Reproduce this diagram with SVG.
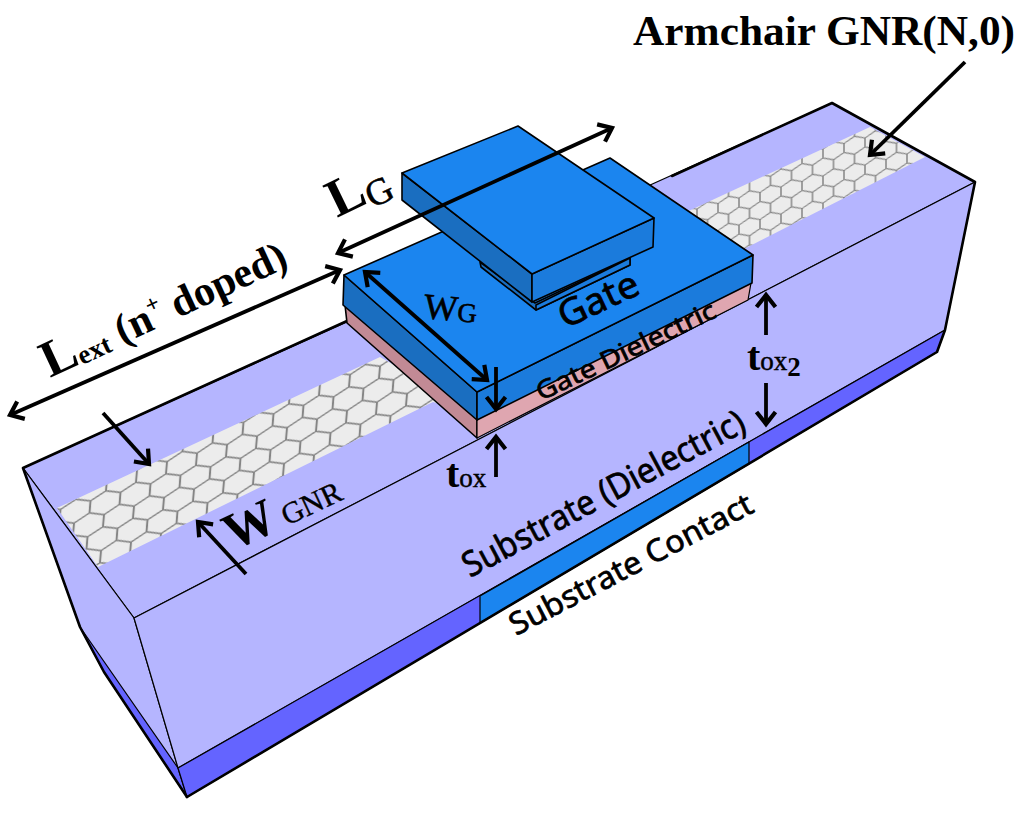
<svg xmlns="http://www.w3.org/2000/svg" width="1024" height="815" viewBox="0 0 1024 815">
<style>
.face{fill:#b5b5ff;stroke:#000;stroke-width:1.2;stroke-linejoin:round}
.band{fill:#6464ff;stroke:#000;stroke-width:1.2;stroke-linejoin:round}
.top{fill:#1b85ef;stroke:#000;stroke-width:1.6;stroke-linejoin:round}
.front{fill:#1b7bdc;stroke:#000;stroke-width:1.6;stroke-linejoin:round}
.side{fill:#1a6ec0;stroke:#000;stroke-width:1.6;stroke-linejoin:round}
.edge{fill:none;stroke:#000;stroke-width:2.6;stroke-linejoin:round;stroke-linecap:round}
.arrow{fill:none;stroke:#000;stroke-width:3.8;marker-end:url(#head)}
.both{marker-start:url(#head)}
.serif{font-family:"Liberation Serif","Times New Roman",serif;fill:#000}
.sans{font-family:"Noto Sans","Open Sans",sans-serif;fill:#000;stroke:#000;stroke-width:.7}
.b{font-weight:bold}
</style>
<defs>
<marker id="head" markerUnits="userSpaceOnUse" markerWidth="26" markerHeight="26" refX="17" refY="13" orient="auto-start-reverse">
<path d="M5 3.5L17 13L5 22.5" fill="none" stroke="#000" stroke-width="4.2"/>
</marker>
<path id="hex" d="M30 0L60 17.32V51.96L30 69.28L0 51.96V17.32ZM30 69.28V103.92" fill="none" stroke="#858585" stroke-width="4.2"/>
<pattern id="hexNear" patternUnits="userSpaceOnUse" width="60" height="103.92" patternTransform="matrix(.5,-.1417,-.0289,.346,91,495)"><rect width="60" height="103.92" fill="#ececec"/><use href="#hex"/></pattern>
<pattern id="hexFar" patternUnits="userSpaceOnUse" width="60" height="103.92" patternTransform="matrix(.35,-.0917,0,.26,812.5,160.75)"><rect width="60" height="103.92" fill="#ececec"/><use href="#hex"/></pattern>
<filter id="soft" x="-5%" y="-5%" width="110%" height="110%"><feGaussianBlur stdDeviation=".7"/></filter>
<clipPath id="nearClip"><polygon points="57,508 380,357 490,420 433,402 98,567"/></clipPath>
<clipPath id="farClip"><polygon points="680,215 870,127 925,157 740,251"/></clipPath>
</defs>
<rect width="1024" height="815" fill="#fff"/>

<g id="substrate">
<polygon class="face" points="23,468 832,103 975,182 134,618"/>
<polygon class="face" points="23,468 134,618 178,768 187,797 104,672 80,627"/>
<polygon class="band" points="80,627 178,768 187,797 104,672"/>
<polygon class="face" points="134,618 975,182 945,330 178,768"/>
<polygon class="band" points="178,768 945,330 937,352 187,797"/>
</g>
<g id="substrate-contact">
<polygon points="480,596 749,442 749,464 480,623" fill="#1b85ef" stroke="#000" stroke-width="1.2"/>
</g>
<g id="gnr-ribbon">
<g clip-path="url(#nearClip)"><rect x="40" y="340" width="460" height="240" fill="url(#hexNear)" filter="url(#soft)"/></g>
<g clip-path="url(#farClip)"><rect x="670" y="115" width="270" height="145" fill="url(#hexFar)" filter="url(#soft)"/></g>
</g>
<g id="outline">
<polyline class="edge" points="187,797 104,672 80,627 23,468 347,321"/>
<polyline class="edge" points="672,176 832,103 975,182 945,330 937,352 187,797"/>
</g>
<g id="gate-dielectric">
<polygon points="345,305 347,323 477,438 477,412" fill="#c28a95" stroke="#000" stroke-width="1.6" stroke-linejoin="round"/>
<polygon points="477,412 751,283 748,300 477,438" fill="#dfa6b0" stroke="#000" stroke-width="1.2" stroke-linejoin="round"/>
</g>
<g id="gate">
<polygon class="side" points="344,275 477,392 477,420 343,305"/>
<polygon class="front" points="477,392 753,255 752,283 477,420"/>
<polygon class="top" points="344,275 610,158 753,255 477,392"/>
</g>
<g id="gate-contact">
<polygon class="side" points="480,262 535,303 630,258 630,265 536,310 481,267"/>
<polygon class="front" points="536,305 630,258 630,265 536,310"/>
<polygon class="side" points="402,173 532,274 532,302 402,200"/>
<polygon class="front" points="532,274 654,218 653,247 532,302"/>
<polygon class="top" points="402,173 518,126 654,218 532,274"/>
</g>

<g id="connectors">
<line class="arrow" x1="965" y1="62" x2="870" y2="155"/>
<line class="arrow both" x1="10" y1="415" x2="340" y2="270"/>
<line class="arrow both" x1="338" y1="253" x2="612" y2="128"/>
<line class="arrow both" x1="365" y1="272" x2="487" y2="380"/>
<line class="arrow" x1="496" y1="367" x2="496" y2="409"/>
<line class="arrow" x1="496" y1="477" x2="496" y2="437"/>
<line class="arrow" x1="766" y1="335" x2="766" y2="295"/>
<line class="arrow" x1="766" y1="383" x2="766" y2="424"/>
<line class="arrow" x1="103" y1="413" x2="149" y2="464"/>
<line class="arrow" x1="246" y1="574" x2="198" y2="522"/>
</g>

<g id="labels">
<text class="serif b" x="633" y="45" font-size="43" textLength="382" lengthAdjust="spacingAndGlyphs">Armchair GNR(N,0)</text>
<text class="serif" transform="translate(337,218) rotate(-26)"><tspan class="b" font-size="54">L</tspan><tspan font-size="37" dy="7" stroke="#000" stroke-width=".6">G</tspan></text>
<text class="serif" transform="translate(50,378) rotate(-25)"><tspan class="b" font-size="52">L</tspan><tspan class="b" font-size="27" dy="2">ext</tspan><tspan class="b" font-size="42" dy="-2"> (n</tspan><tspan class="b" font-size="24" dy="-16">+</tspan><tspan class="b" font-size="42" dy="16"> doped)</tspan></text>
<text class="serif" transform="translate(423,318) rotate(5)" stroke="#000" stroke-width=".6"><tspan font-size="36">W</tspan><tspan font-size="27">G</tspan></text>
<text class="serif" transform="translate(233,551) rotate(-25)"><tspan class="b" font-size="52">W</tspan><tspan font-size="30" stroke="#000" stroke-width=".4"> GNR</tspan></text>
<text class="serif" x="446" y="487"><tspan class="b" font-size="40">t</tspan><tspan font-size="27" stroke="#000" stroke-width=".5">ox</tspan></text>
<text class="serif" x="747" y="370"><tspan class="b" font-size="40">t</tspan><tspan font-size="27" stroke="#000" stroke-width=".5">ox</tspan><tspan class="b" font-size="27" dy="6">2</tspan></text>
<text class="sans" transform="translate(565,329) rotate(-25)" font-size="37" textLength="85" lengthAdjust="spacingAndGlyphs">Gate</text>
<text class="sans" transform="translate(541,401) rotate(-25.5)" font-size="25" textLength="196" lengthAdjust="spacingAndGlyphs">Gate Dielectric</text>
<text class="sans" transform="translate(470,578) rotate(-28)" font-size="35" textLength="315" lengthAdjust="spacingAndGlyphs">Substrate (Dielectric)</text>
<text class="sans" transform="translate(516,636) rotate(-27.5)" font-size="31" textLength="270" lengthAdjust="spacingAndGlyphs">Substrate Contact</text>
</g>
</svg>
